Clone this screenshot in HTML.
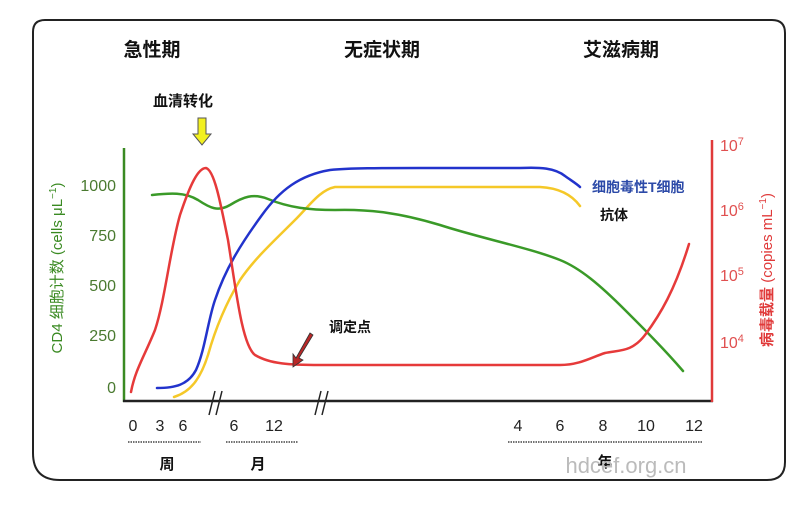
<!DOCTYPE html>
<html><head><meta charset="utf-8"><style>
body{margin:0;background:#fff}
svg text{font-family:"Liberation Sans","Noto Sans CJK SC",sans-serif}
</style></head><body>
<svg width="808" height="500" viewBox="0 0 808 500" xmlns="http://www.w3.org/2000/svg">
<rect x="0" y="0" width="808" height="500" fill="#fff"/>
<path d="M45,20 H772 Q785,20 785,33 V462 Q785,480 767,480 H60 Q33,480 33,453 V32 Q33,20 45,20 Z" fill="none" stroke="#222" stroke-width="2"/>
<g font-weight="bold" font-size="19" fill="#111" text-anchor="middle">
<text x="152" y="56">急性期</text><text x="382" y="56">无症状期</text><text x="621" y="56">艾滋病期</text></g>
<text x="183" y="106" font-size="15" font-weight="bold" text-anchor="middle" fill="#111">血清转化</text>
<path d="M198,118 h8 v16 h5 l-9,11 l-9,-11 h5 z" fill="#f2f020" stroke="#555" stroke-width="1"/>
<line x1="124" y1="148" x2="124" y2="402" stroke="#3a8a22" stroke-width="2.5"/>
<line x1="123" y1="401" x2="713" y2="401" stroke="#222" stroke-width="2.5"/>
<line x1="712" y1="140" x2="712" y2="402" stroke="#e03a3a" stroke-width="2.5"/>
<g stroke="#222" stroke-width="1.5"><line x1="209" y1="415" x2="215" y2="391"/><line x1="216" y1="415" x2="222" y2="391"/>
<line x1="315" y1="415" x2="321" y2="391"/><line x1="322" y1="415" x2="328" y2="391"/></g>
<g fill="#4a7a30" font-size="16" text-anchor="end">
<text x="116" y="191">1000</text><text x="116" y="241">750</text><text x="116" y="291">500</text><text x="116" y="341">250</text><text x="116" y="393">0</text></g>
<text transform="translate(62,268) rotate(-90)" fill="#3a8a22" font-size="15" text-anchor="middle">CD4 细胞计数 (cells μL<tspan font-size="10" dy="-6">−1</tspan><tspan dy="6">)</tspan></text>
<g fill="#e05050" font-size="16">
<text x="720" y="151">10<tspan font-size="11" dy="-6">7</tspan></text>
<text x="720" y="216">10<tspan font-size="11" dy="-6">6</tspan></text>
<text x="720" y="281">10<tspan font-size="11" dy="-6">5</tspan></text>
<text x="720" y="348">10<tspan font-size="11" dy="-6">4</tspan></text></g>
<text transform="translate(772,270) rotate(-90)" fill="#e03a3a" font-size="15" text-anchor="middle"><tspan font-weight="bold">病毒载量</tspan>  (copies mL<tspan font-size="10" dy="-6">−1</tspan><tspan dy="6">)</tspan></text>
<g fill="none" stroke-width="2.5" stroke-linecap="round" stroke-linejoin="round">
<path stroke="#f5c828" d="M174,397 C190,392 200,380 208,355 C215,330 225,305 240,280 C255,258 275,240 295,220 C310,205 320,190 335,187 L540,187 C560,188 572,195 580,206"/>
<path stroke="#3a9a28" d="M152,195 C170,193 185,192 198,200 C210,208 218,212 230,205 C243,197 253,193 268,199 C290,208 310,210 335,210 C370,209 400,213 440,225 C480,238 530,248 560,260 C580,268 600,285 625,310 C645,330 665,350 683,371"/>
<path stroke="#2233cc" d="M157,388 C175,388 188,385 196,370 C205,350 208,320 215,300 C225,270 240,245 262,215 C280,190 300,175 330,170 C350,168 380,168 420,168 L520,168 C540,167 555,168 565,176 C572,181 577,184 580,187"/>
<path stroke="#e63a3a" d="M131,392 C135,370 145,355 155,330 C165,300 170,250 180,215 C190,185 198,168 206,168 C214,170 220,200 228,240 C236,290 242,345 255,355 C270,364 290,365 320,365 L560,365 C580,365 592,357 605,353 C620,350 632,352 645,335 C660,315 675,290 689,244"/>
</g>
<text x="329" y="332" font-size="14" font-weight="bold" fill="#111">调定点</text>
<path d="M310,333 L296,358 L293,354 L293,367 L303,360 L299,358 L313,335 Z" fill="#b82828" stroke="#333" stroke-width="0.8"/>
<text x="592" y="192" font-size="14" font-weight="bold" fill="#2c4aa8">细胞毒性T细胞</text>
<text x="600" y="220" font-size="14" font-weight="bold" fill="#111">抗体</text>
<g font-size="16" fill="#222" text-anchor="middle">
<text x="133" y="431">0</text><text x="160" y="431">3</text><text x="183" y="431">6</text>
<text x="234" y="431">6</text><text x="274" y="431">12</text>
<text x="518" y="431">4</text><text x="560" y="431">6</text><text x="603" y="431">8</text><text x="646" y="431">10</text><text x="694" y="431">12</text></g>
<g stroke="#444" stroke-width="1.5" stroke-dasharray="1.5,1"><line x1="128" y1="442" x2="201" y2="442"/><line x1="226" y1="442" x2="298" y2="442"/><line x1="508" y1="442" x2="702" y2="442"/></g>
<g font-size="15" font-weight="bold" fill="#111" text-anchor="middle"><text x="167" y="469">周</text><text x="258" y="469">月</text><text x="605" y="467">年</text></g>
<text x="626" y="473" font-size="22" fill="#bbb" text-anchor="middle">hdcef.org.cn</text>
</svg>
</body></html>
